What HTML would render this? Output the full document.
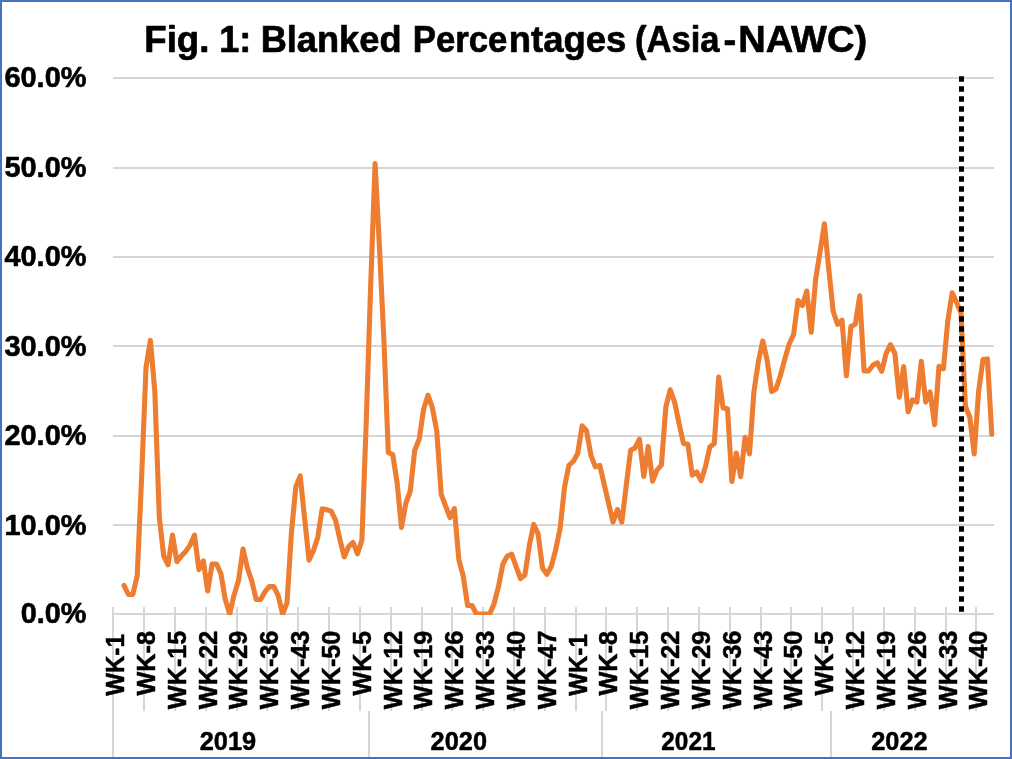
<!DOCTYPE html>
<html lang="en">
<head>
<meta charset="utf-8">
<title>Fig. 1: Blanked Percentages (Asia-NAWC)</title>
<style>
html,body{margin:0;padding:0;background:#fff;}
body{width:1012px;height:759px;overflow:hidden;}
svg{display:block;}
text{font-family:'Liberation Sans', sans-serif;font-weight:bold;fill:#000;}
</style>
</head>
<body>
<svg width="1012" height="759" viewBox="0 0 1012 759">
<rect x="0" y="0" width="1012" height="759" fill="#fff"/>
<g stroke="#D6D6D6" stroke-width="2" fill="none">
<line x1="113" y1="78" x2="994" y2="78"/>
<line x1="113" y1="168" x2="994" y2="168"/>
<line x1="113" y1="257" x2="994" y2="257"/>
<line x1="113" y1="346" x2="994" y2="346"/>
<line x1="113" y1="436" x2="994" y2="436"/>
<line x1="113" y1="525" x2="994" y2="525"/>
<line x1="112" y1="614" x2="994" y2="614"/>
<line x1="113" y1="607" x2="113" y2="758"/>
<line x1="144" y1="607" x2="144" y2="711"/>
<line x1="175" y1="607" x2="175" y2="711"/>
<line x1="206" y1="607" x2="206" y2="711"/>
<line x1="237" y1="607" x2="237" y2="711"/>
<line x1="267" y1="607" x2="267" y2="711"/>
<line x1="298" y1="607" x2="298" y2="711"/>
<line x1="329" y1="607" x2="329" y2="711"/>
<line x1="360" y1="607" x2="360" y2="711"/>
<line x1="391" y1="607" x2="391" y2="711"/>
<line x1="422" y1="607" x2="422" y2="711"/>
<line x1="452" y1="607" x2="452" y2="711"/>
<line x1="483" y1="607" x2="483" y2="711"/>
<line x1="514" y1="607" x2="514" y2="711"/>
<line x1="545" y1="607" x2="545" y2="711"/>
<line x1="576" y1="607" x2="576" y2="711"/>
<line x1="606" y1="607" x2="606" y2="711"/>
<line x1="637" y1="607" x2="637" y2="711"/>
<line x1="668" y1="607" x2="668" y2="711"/>
<line x1="699" y1="607" x2="699" y2="711"/>
<line x1="730" y1="607" x2="730" y2="711"/>
<line x1="761" y1="607" x2="761" y2="711"/>
<line x1="791" y1="607" x2="791" y2="711"/>
<line x1="822" y1="607" x2="822" y2="711"/>
<line x1="853" y1="607" x2="853" y2="711"/>
<line x1="884" y1="607" x2="884" y2="711"/>
<line x1="915" y1="607" x2="915" y2="711"/>
<line x1="946" y1="607" x2="946" y2="711"/>
<line x1="976" y1="607" x2="976" y2="711"/>
<line x1="369" y1="711" x2="369" y2="758"/>
<line x1="602" y1="711" x2="602" y2="758"/>
<line x1="831" y1="711" x2="831" y2="758"/>
</g>
<text font-size="37.5" stroke="#000" stroke-width="0.7" stroke-linejoin="round" y="51.6"><tspan x="144.29" textLength="65.19" lengthAdjust="spacingAndGlyphs">Fig.</tspan><tspan> </tspan><tspan x="219.19" textLength="32.05" lengthAdjust="spacingAndGlyphs">1:</tspan><tspan> </tspan><tspan x="260.66" textLength="140.85" lengthAdjust="spacingAndGlyphs">Blanked</tspan><tspan> </tspan><tspan x="412.78" textLength="94.60" lengthAdjust="spacingAndGlyphs">Perce</tspan><tspan x="508.81" textLength="117.60" lengthAdjust="spacingAndGlyphs">ntages</tspan><tspan> </tspan><tspan x="634.93" textLength="84.58" lengthAdjust="spacingAndGlyphs">(Asia</tspan><tspan x="723.52" textLength="12.74" lengthAdjust="spacingAndGlyphs">-</tspan><tspan x="738.21" textLength="128.96" lengthAdjust="spacingAndGlyphs">NAWC)</tspan></text>
<g font-size="29.0" text-anchor="end" stroke="#000" stroke-width="0.6" stroke-linejoin="round">
<text x="86.50" y="87.4" textLength="82.10" lengthAdjust="spacingAndGlyphs">60.0%</text>
<text x="86.50" y="176.5" textLength="82.10" lengthAdjust="spacingAndGlyphs">50.0%</text>
<text x="86.50" y="266.0" textLength="82.10" lengthAdjust="spacingAndGlyphs">40.0%</text>
<text x="86.50" y="356.0" textLength="82.10" lengthAdjust="spacingAndGlyphs">30.0%</text>
<text x="86.50" y="445.4" textLength="82.10" lengthAdjust="spacingAndGlyphs">20.0%</text>
<text x="86.50" y="534.8" textLength="82.10" lengthAdjust="spacingAndGlyphs">10.0%</text>
<text x="86.50" y="623.3" textLength="65.70" lengthAdjust="spacingAndGlyphs">0.0%</text>
</g>
<g font-size="25.4" text-anchor="end" stroke="#000" stroke-width="0.5" stroke-linejoin="round">
<text transform="translate(124.0,634.2) rotate(-90)" textLength="61.6" lengthAdjust="spacingAndGlyphs">WK-1</text>
<text transform="translate(154.8,631.0) rotate(-90)" textLength="64.6" lengthAdjust="spacingAndGlyphs">WK-8</text>
<text transform="translate(185.7,630.6) rotate(-90)" textLength="78.6" lengthAdjust="spacingAndGlyphs">WK-15</text>
<text transform="translate(216.5,630.6) rotate(-90)" textLength="78.6" lengthAdjust="spacingAndGlyphs">WK-22</text>
<text transform="translate(247.3,630.6) rotate(-90)" textLength="78.6" lengthAdjust="spacingAndGlyphs">WK-29</text>
<text transform="translate(278.2,630.6) rotate(-90)" textLength="78.6" lengthAdjust="spacingAndGlyphs">WK-36</text>
<text transform="translate(309.0,630.6) rotate(-90)" textLength="78.6" lengthAdjust="spacingAndGlyphs">WK-43</text>
<text transform="translate(339.9,630.6) rotate(-90)" textLength="78.6" lengthAdjust="spacingAndGlyphs">WK-50</text>
<text transform="translate(370.7,631.0) rotate(-90)" textLength="64.6" lengthAdjust="spacingAndGlyphs">WK-5</text>
<text transform="translate(401.5,630.6) rotate(-90)" textLength="78.6" lengthAdjust="spacingAndGlyphs">WK-12</text>
<text transform="translate(432.4,630.6) rotate(-90)" textLength="78.6" lengthAdjust="spacingAndGlyphs">WK-19</text>
<text transform="translate(463.2,630.6) rotate(-90)" textLength="78.6" lengthAdjust="spacingAndGlyphs">WK-26</text>
<text transform="translate(494.0,630.6) rotate(-90)" textLength="78.6" lengthAdjust="spacingAndGlyphs">WK-33</text>
<text transform="translate(524.9,630.6) rotate(-90)" textLength="78.6" lengthAdjust="spacingAndGlyphs">WK-40</text>
<text transform="translate(555.7,630.6) rotate(-90)" textLength="78.6" lengthAdjust="spacingAndGlyphs">WK-47</text>
<text transform="translate(586.5,634.2) rotate(-90)" textLength="61.6" lengthAdjust="spacingAndGlyphs">WK-1</text>
<text transform="translate(617.4,631.0) rotate(-90)" textLength="64.6" lengthAdjust="spacingAndGlyphs">WK-8</text>
<text transform="translate(648.2,630.6) rotate(-90)" textLength="78.6" lengthAdjust="spacingAndGlyphs">WK-15</text>
<text transform="translate(679.1,630.6) rotate(-90)" textLength="78.6" lengthAdjust="spacingAndGlyphs">WK-22</text>
<text transform="translate(709.9,630.6) rotate(-90)" textLength="78.6" lengthAdjust="spacingAndGlyphs">WK-29</text>
<text transform="translate(740.7,630.6) rotate(-90)" textLength="78.6" lengthAdjust="spacingAndGlyphs">WK-36</text>
<text transform="translate(771.6,630.6) rotate(-90)" textLength="78.6" lengthAdjust="spacingAndGlyphs">WK-43</text>
<text transform="translate(802.4,630.6) rotate(-90)" textLength="78.6" lengthAdjust="spacingAndGlyphs">WK-50</text>
<text transform="translate(833.2,631.0) rotate(-90)" textLength="64.6" lengthAdjust="spacingAndGlyphs">WK-5</text>
<text transform="translate(864.1,630.6) rotate(-90)" textLength="78.6" lengthAdjust="spacingAndGlyphs">WK-12</text>
<text transform="translate(894.9,630.6) rotate(-90)" textLength="78.6" lengthAdjust="spacingAndGlyphs">WK-19</text>
<text transform="translate(925.7,630.6) rotate(-90)" textLength="78.6" lengthAdjust="spacingAndGlyphs">WK-26</text>
<text transform="translate(956.6,630.6) rotate(-90)" textLength="78.6" lengthAdjust="spacingAndGlyphs">WK-33</text>
<text transform="translate(987.4,630.6) rotate(-90)" textLength="78.6" lengthAdjust="spacingAndGlyphs">WK-40</text>
</g>
<g font-size="25.2" text-anchor="middle" stroke="#000" stroke-width="0.5" stroke-linejoin="round">
<text x="227.9" y="749.9" textLength="56.4" lengthAdjust="spacingAndGlyphs">2019</text>
<text x="458.8" y="749.9" textLength="56.4" lengthAdjust="spacingAndGlyphs">2020</text>
<text x="688.4" y="749.9" textLength="54.2" lengthAdjust="spacingAndGlyphs">2021</text>
<text x="899.4" y="749.9" textLength="56.4" lengthAdjust="spacingAndGlyphs">2022</text>
</g>
<clipPath id="plot"><rect x="100" y="60" width="900" height="555"/></clipPath>
<polyline clip-path="url(#plot)" points="124.0,585.4 128.4,594.5 132.8,594.5 137.2,575.9 141.6,478.0 146.0,367.5 150.4,340.4 154.8,391.0 159.3,517.0 163.7,556.1 168.1,564.8 172.5,535.1 176.9,561.7 181.3,556.1 185.7,551.4 190.1,545.1 194.5,535.1 198.9,569.6 203.3,560.9 207.7,590.9 212.1,564.0 216.5,564.0 220.9,573.5 225.3,599.6 229.7,614.0 234.1,594.9 238.5,580.6 243.0,549.0 247.4,568.0 251.8,581.0 256.2,599.5 260.6,599.5 265.0,591.7 269.4,586.5 273.8,586.6 278.2,595.7 282.6,614.0 287.0,602.8 291.4,533.0 295.8,487.0 300.2,475.9 304.6,518.0 309.0,560.1 313.4,550.6 317.8,537.2 322.2,508.7 326.6,509.8 331.1,511.1 335.5,519.8 339.9,539.5 344.3,556.9 348.7,546.6 353.1,542.4 357.5,553.8 361.9,540.3 366.3,420.0 370.7,285.0 375.1,163.6 379.5,248.0 383.9,340.0 388.3,452.5 392.7,454.5 397.1,482.5 401.5,527.4 405.9,503.0 410.3,491.0 414.7,450.4 419.2,439.3 423.6,409.2 428.0,395.2 432.4,407.7 436.8,431.4 441.2,494.3 445.6,506.0 450.0,517.5 454.4,508.6 458.8,559.3 463.2,576.0 467.6,605.5 472.0,605.5 476.4,614.0 480.8,614.0 485.2,614.0 489.6,614.0 494.0,604.0 498.4,587.0 502.9,564.0 507.3,556.0 511.7,554.2 516.1,566.7 520.5,578.5 524.9,575.0 529.3,545.6 533.7,524.4 538.1,533.8 542.5,568.0 546.9,574.3 551.3,566.4 555.7,549.8 560.1,528.5 564.5,487.5 568.9,465.3 573.3,461.4 577.7,453.5 582.1,425.8 586.5,430.6 591.0,455.8 595.4,466.9 599.8,465.3 604.2,484.3 608.6,503.3 613.0,522.2 617.4,509.5 621.8,522.2 626.2,485.9 630.6,450.3 635.0,447.9 639.4,439.2 643.8,476.4 648.2,446.4 652.6,481.1 657.0,470.1 661.4,465.1 665.8,407.2 670.2,389.8 674.7,402.4 679.1,423.8 683.5,443.5 687.9,444.3 692.3,475.1 696.7,472.0 701.1,480.7 705.5,466.4 709.9,446.7 714.3,443.5 718.7,377.1 723.1,407.9 727.5,408.7 731.9,481.5 736.3,453.0 740.7,476.7 745.1,437.2 749.5,453.8 753.9,392.0 758.3,362.2 762.8,340.9 767.2,360.6 771.6,391.4 776.0,389.0 780.4,375.5 784.8,359.1 789.2,344.0 793.6,334.5 798.0,300.5 802.4,305.5 806.8,291.0 811.2,332.2 815.6,279.5 820.0,252.2 824.4,223.7 828.8,269.6 833.2,311.5 837.6,324.3 842.0,320.3 846.4,375.7 850.9,326.6 855.3,324.3 859.7,295.8 864.1,371.0 868.5,371.0 872.9,365.2 877.3,362.8 881.7,371.3 886.1,353.5 890.5,344.7 894.9,353.5 899.3,397.3 903.7,366.6 908.1,411.8 912.5,399.8 916.9,402.1 921.3,361.3 925.7,402.1 930.1,392.0 934.6,424.6 939.0,366.2 943.4,368.8 947.8,320.6 952.2,292.8 956.6,302.5 961.0,313.0 965.4,406.6 969.8,417.1 974.2,453.9 978.6,391.5 983.0,359.6 987.4,358.9 991.8,434.3" fill="none" stroke="#ED7D31" stroke-width="5.1" stroke-linejoin="round" stroke-linecap="round"/>
<line x1="961.5" y1="76.15" x2="961.5" y2="612" stroke="#000" stroke-width="5" stroke-dasharray="5.5 4.5"/>
<rect x="1" y="1" width="1010" height="757" fill="none" stroke="#4472C4" stroke-width="2"/>
</svg>
</body>
</html>
